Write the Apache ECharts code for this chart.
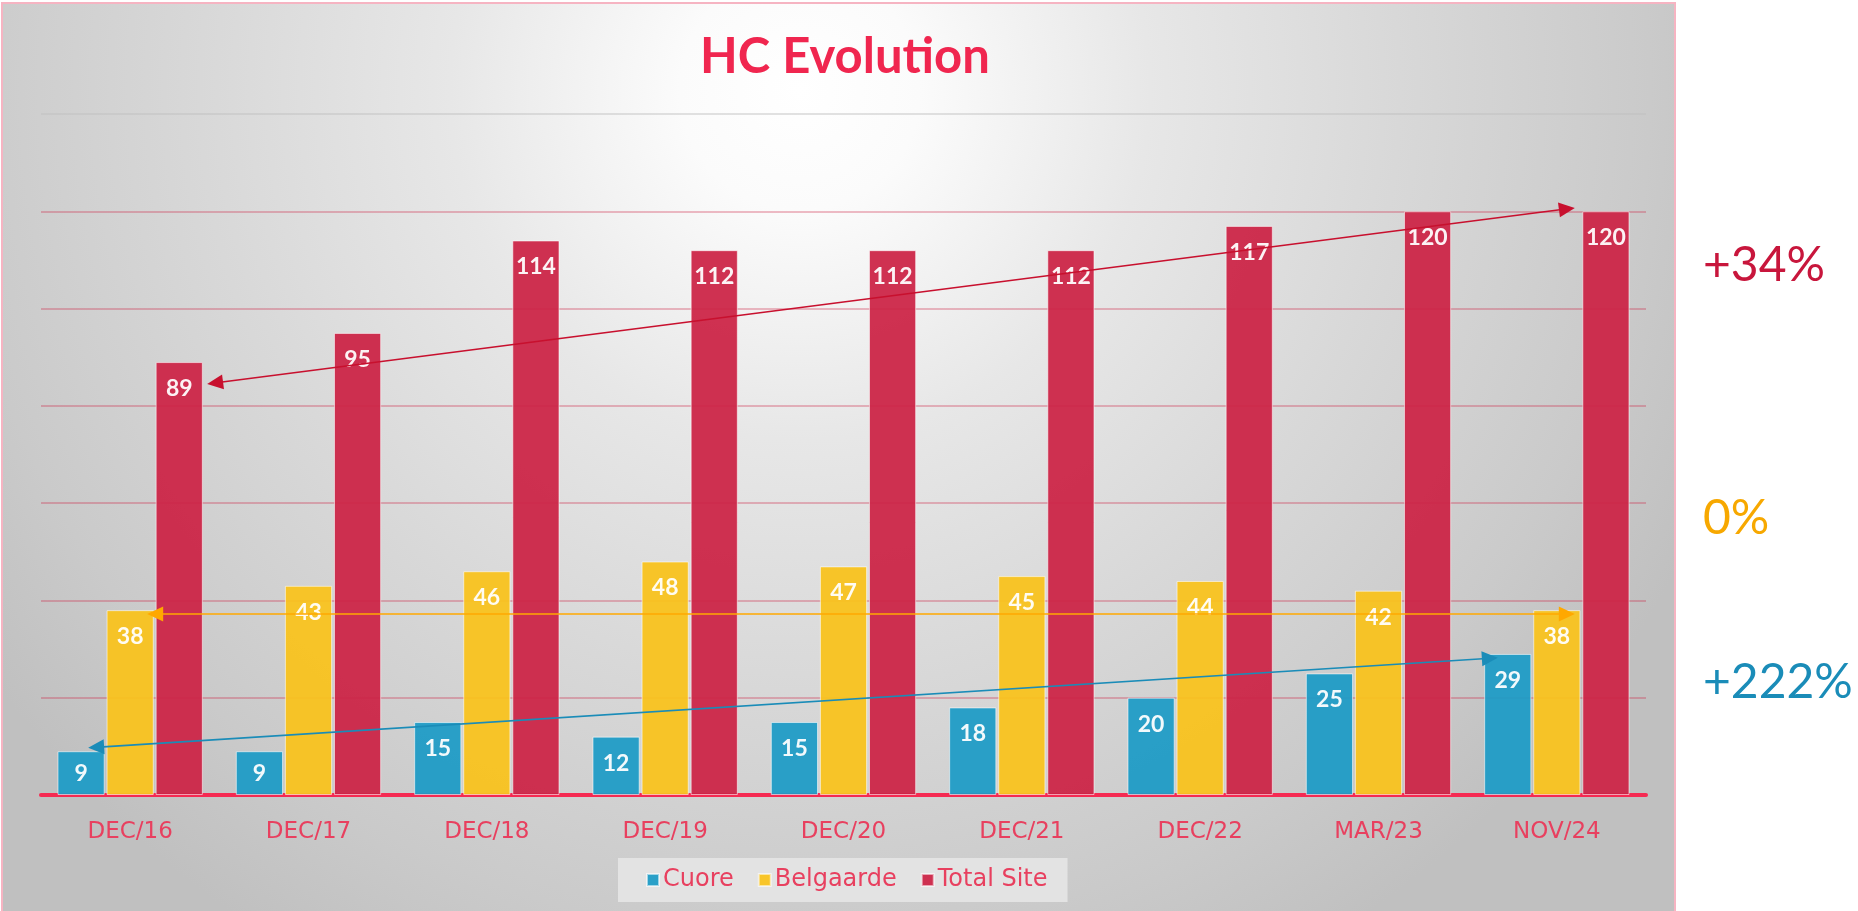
<!DOCTYPE html>
<html>
<head>
<meta charset="utf-8">
<title>HC Evolution</title>
<script src="https://cdn.jsdelivr.net/npm/echarts@6/dist/echarts.min.js"></script>
<style>
  html, body { margin: 0; padding: 0; background: #ffffff; }
  #main { width: 1858px; height: 911px; }
</style>
</head>
<body>
<div id="main"></div>
<script>
var categories = ['DEC/16', 'DEC/17', 'DEC/18', 'DEC/19', 'DEC/20', 'DEC/21', 'DEC/22', 'MAR/23', 'NOV/24'];
var cuore = [9, 9, 15, 12, 15, 18, 20, 25, 29];
var belgaarde = [38, 43, 46, 48, 47, 45, 44, 42, 38];
var totalSite = [89, 95, 114, 112, 112, 112, 117, 120, 120];

// growth texts shown on the right, in series order: Total Site, Belgaarde, Cuore
var growthLabels = ['+34%', '0%', '+222%'];
// trend arrows: value at start (DEC/16) and end (NOV/24)
var totalArrow = [84.5, 120.7];
var belgaardeArrow = [37.2, 37.2];
var cuoreArrow = [9.7, 28.2];

var RED = '#CC2446';
var YELLOW = '#F9C21D';
var BLUE = '#1E9BC6';
var PINK_TEXT = '#E8405F';

var myChart = echarts.init(document.getElementById('main'));

function barSeries(name, values, color) {
    return {
        name: name,
        type: 'bar',
        barGap: '4%',
        barCategoryGap: '18.5%',
        data: values.map(function (v) {
            return v < 10 ? { value: v, label: { position: 'inside' } } : v;
        }),
        itemStyle: {
            color: color,
            opacity: 0.94,
            borderColor: 'rgba(255,255,255,0.6)',
            borderWidth: 1
        },
        label: {
            show: true,
            position: 'insideTop',
            distance: 15,
            color: '#ffffff',
            fontFamily: 'Lato',
            fontWeight: 'bold',
            fontSize: 23
        }
    };
}

var option = {
    backgroundColor: '#ffffff',
    animation: false,
    title: {
        text: 'HC Evolution',
        left: 840,
        textAlign: 'center',
        top: 28,
        textStyle: {
            color: '#F0264F',
            fontFamily: 'Lato',
            fontWeight: 'bold',
            fontSize: 49
        }
    },
    legend: {
        data: ['Cuore', 'Belgaarde', 'Total Site'],
        left: 618,
        top: 858,
        backgroundColor: '#E3E3E3',
        padding: [10, 20, 10, 28],
        itemWidth: 12,
        itemHeight: 12,
        itemGap: 24,
        icon: 'rect',
        textStyle: {
            color: PINK_TEXT,
            fontFamily: 'DejaVu Sans',
            fontSize: 24,
            padding: [0, 0, 0, -1]
        }
    },
    grid: {
        left: 41,
        right: 212,
        top: 114,
        bottom: 116
    },
    xAxis: {
        type: 'category',
        data: categories,
        axisLine: { lineStyle: { color: '#F52A52', width: 4 } },
        axisTick: { show: false },
        axisLabel: {
            color: PINK_TEXT,
            fontFamily: 'DejaVu Sans',
            fontSize: 23,
            margin: 26
        }
    },
    yAxis: {
        type: 'value',
        min: 0,
        max: 140,
        interval: 20,
        axisLine: { show: false },
        axisTick: { show: false },
        axisLabel: { show: false },
        splitLine: {
            lineStyle: {
                width: 2,
                color: [
                    'rgba(204,36,70,0.3)', 'rgba(204,36,70,0.3)', 'rgba(204,36,70,0.3)',
                    'rgba(204,36,70,0.3)', 'rgba(204,36,70,0.3)', 'rgba(204,36,70,0.3)',
                    'rgba(204,36,70,0.3)', 'rgba(190,190,190,0.45)'
                ]
            }
        }
    },
    series: [
        barSeries('Cuore', cuore, BLUE),
        barSeries('Belgaarde', belgaarde, YELLOW),
        barSeries('Total Site', totalSite, RED)
    ]
};

myChart.setOption(option);

// pixel position of a category index / value pair on the grid
function px(i, v) {
    return myChart.convertToPixel({ gridIndex: 0 }, [i, v]);
}

function arrow(a, b, color) {
    var dx = b[0] - a[0], dy = b[1] - a[1];
    var len = Math.sqrt(dx * dx + dy * dy);
    var ux = dx / len, uy = dy / len;
    var L = 16, W = 7.5;
    function head(tip, dx, dy) {
        var bx = tip[0] - dx * L, by = tip[1] - dy * L;
        return {
            type: 'polygon',
            z: 100,
            shape: { points: [tip, [bx - dy * W, by + dx * W], [bx + dy * W, by - dx * W]] },
            style: { fill: color }
        };
    }
    return [
        {
            type: 'line',
            z: 100,
            shape: {
                x1: a[0] + ux * L * 0.7, y1: a[1] + uy * L * 0.7,
                x2: b[0] - ux * L * 0.7, y2: b[1] - uy * L * 0.7
            },
            style: { stroke: color, lineWidth: 1.6 }
        },
        head(a, -ux, -uy),
        head(b, ux, uy)
    ];
}

var last = categories.length - 1;
function shift(p, dx) { return [p[0] + dx, p[1]]; }

var graphics = [
    {
        type: 'rect',
        z: -100,
        silent: true,
        shape: { x: 2, y: 3, width: 1673, height: 930 },
        style: {
            fill: new echarts.graphic.RadialGradient(800, 90, 1000, [
                { offset: 0, color: '#FFFFFF' },
                { offset: 0.12, color: '#FBFBFB' },
                { offset: 0.35, color: '#E7E7E7' },
                { offset: 0.6, color: '#D8D8D8' },
                { offset: 0.85, color: '#CACACA' },
                { offset: 1, color: '#C0C0C0' }
            ], true),
            stroke: '#F6B4C2',
            lineWidth: 2
        }
    }
];

graphics = graphics
    .concat(arrow(shift(px(0, totalArrow[0]), 77), shift(px(last, totalArrow[1]), 18), '#C8102E'))
    .concat(arrow(shift(px(0, belgaardeArrow[0]), 17), shift(px(last, belgaardeArrow[1]), 18), '#FFA800'))
    .concat(arrow(shift(px(0, cuoreArrow[0]), -42), shift(px(last, cuoreArrow[1]), -59), '#1A8CB8'));

var growthColors = ['#C8163C', '#F7A800', '#1A8CB8'];
var growthY = [266, 519, 683];
growthLabels.forEach(function (t, i) {
    graphics.push({
        type: 'text',
        z: 100,
        x: 1703,
        y: growthY[i],
        style: {
            text: t,
            fill: growthColors[i],
            fontFamily: 'Lato',
            fontSize: 48,
            verticalAlign: 'middle',
            align: 'left'
        }
    });
});

myChart.setOption({ graphic: graphics });
</script>
</body>
</html>
